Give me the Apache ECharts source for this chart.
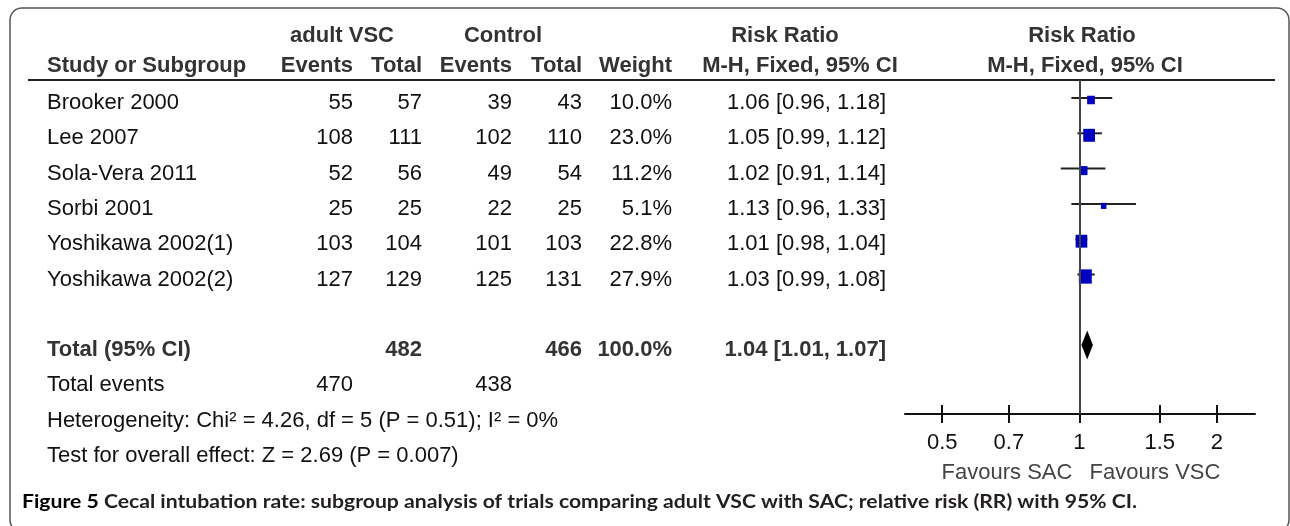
<!DOCTYPE html>
<html>
<head>
<meta charset="utf-8">
<script src="https://cdn.jsdelivr.net/npm/echarts@6/dist/echarts.min.js"></script>
<style>
  html, body { margin: 0; padding: 0; background: #fff; }
  #main { width: 1290px; height: 526px; }
</style>
</head>
<body>
<div id="main"></div>
<script>
// 数据
const studies = ['Brooker 2000', 'Lee 2007', 'Sola-Vera 2011', 'Sorbi 2001', 'Yoshikawa 2002(1)', 'Yoshikawa 2002(2)'];
const vscEvents = [55, 108, 52, 25, 103, 127];
const vscTotal = [57, 111, 56, 25, 104, 129];
const ctrlEvents = [39, 102, 49, 22, 101, 125];
const ctrlTotal = [43, 110, 54, 25, 103, 131];
const weights = [10.0, 23.0, 11.2, 5.1, 22.8, 27.9];
const rr = [1.06, 1.05, 1.02, 1.13, 1.01, 1.03];
const ciLow = [0.96, 0.99, 0.91, 0.96, 0.98, 0.99];
const ciHigh = [1.18, 1.12, 1.14, 1.33, 1.04, 1.08];
const totalN = [482, 466];          // adult VSC, Control
const totalWeight = 100.0;
const totalRR = [1.04, 1.01, 1.07]; // rr, low, high
const totalEvents = [470, 438];
const footLines = [
    'Heterogeneity: Chi\u00b2 = 4.26, df = 5 (P = 0.51); I\u00b2 = 0%',
    'Test for overall effect: Z = 2.69 (P = 0.007)'
];
const axisTicks = [0.5, 0.7, 1, 1.5, 2];
const favours = ['Favours SAC', 'Favours VSC'];
const captionHead = 'Figure 5';
const caption = 'Cecal intubation rate: subgroup analysis of trials comparing adult VSC with SAC; relative risk (RR) with 95% CI.';

// 布局
const ROW0 = 98, ROW_STEP = 35.3, TEXT_DY = 5;
const GRID_TOP = 80, AXIS_Y = 414;
const TOTAL_ROW = 7;
const rowY = i => ROW0 + ROW_STEP * i + TEXT_DY;
const FONT = '"Liberation Sans", Arial, sans-serif';
const CAP_FONT = 'Lato, "Open Sans", sans-serif';
const CAP_SIZE = 19, CAP_X = 22, CAP_END = 1137;

function txt(x, y, s, align, bold, color) {
    return {
        type: 'text', x: x, y: y, silent: true,
        style: {
            text: s, align: align || 'left', verticalAlign: 'middle',
            fontFamily: FONT, fontSize: 22, fontWeight: bold ? 'bold' : 'normal',
            fill: color || '#111'
        }
    };
}
const fmt1 = v => v.toFixed(1) + '%';
const fmtRR = (a, b, c) => a.toFixed(2) + ' [' + b.toFixed(2) + ', ' + c.toFixed(2) + ']';

const elements = [];
// 外框
elements.push({
    type: 'rect', silent: true,
    shape: { x: 10, y: 8, width: 1279, height: 524, r: 12 },
    style: { fill: 'none', stroke: '#555', lineWidth: 1.5 }
});
// 表头
const HEAD = '#333';
elements.push(txt(342, 36, 'adult VSC', 'center', true, HEAD));
elements.push(txt(503, 36, 'Control', 'center', true, HEAD));
elements.push(txt(785, 36, 'Risk Ratio', 'center', true, HEAD));
elements.push(txt(1082, 36, 'Risk Ratio', 'center', true, HEAD));
elements.push(txt(47, 66, 'Study or Subgroup', 'left', true, HEAD));
elements.push(txt(353, 66, 'Events', 'right', true, HEAD));
elements.push(txt(422, 66, 'Total', 'right', true, HEAD));
elements.push(txt(512, 66, 'Events', 'right', true, HEAD));
elements.push(txt(582, 66, 'Total', 'right', true, HEAD));
elements.push(txt(672, 66, 'Weight', 'right', true, HEAD));
elements.push(txt(800, 66, 'M-H, Fixed, 95% CI', 'center', true, HEAD));
elements.push(txt(1085, 66, 'M-H, Fixed, 95% CI', 'center', true, HEAD));
elements.push({
    type: 'line', silent: true,
    shape: { x1: 28, y1: GRID_TOP, x2: 1275, y2: GRID_TOP },
    style: { stroke: '#222', lineWidth: 2 }
});
// 研究行
studies.forEach((name, i) => {
    const y = rowY(i);
    elements.push(txt(47, y, name));
    elements.push(txt(353, y, String(vscEvents[i]), 'right'));
    elements.push(txt(422, y, String(vscTotal[i]), 'right'));
    elements.push(txt(512, y, String(ctrlEvents[i]), 'right'));
    elements.push(txt(582, y, String(ctrlTotal[i]), 'right'));
    elements.push(txt(672, y, fmt1(weights[i]), 'right'));
    elements.push(txt(886, y, fmtRR(rr[i], ciLow[i], ciHigh[i]), 'right'));
});
// 合计
let y = rowY(TOTAL_ROW);
elements.push(txt(47, y, 'Total (95% CI)', 'left', true, HEAD));
elements.push(txt(422, y, String(totalN[0]), 'right', true, HEAD));
elements.push(txt(582, y, String(totalN[1]), 'right', true, HEAD));
elements.push(txt(672, y, fmt1(totalWeight), 'right', true, HEAD));
elements.push(txt(886, y, fmtRR(totalRR[0], totalRR[1], totalRR[2]), 'right', true, HEAD));
y = rowY(TOTAL_ROW + 1);
elements.push(txt(47, y, 'Total events'));
elements.push(txt(353, y, String(totalEvents[0]), 'right'));
elements.push(txt(512, y, String(totalEvents[1]), 'right'));
footLines.forEach((s, k) => elements.push(txt(47, rowY(TOTAL_ROW + 2 + k), s)));
// 偏向说明
elements.push(txt(1007, 473, favours[0], 'center', false, '#444'));
elements.push(txt(1155, 473, favours[1], 'center', false, '#444'));
// 图注, 横向压缩到原图宽度
const ctx = document.createElement('canvas').getContext('2d');
ctx.font = 'bold ' + CAP_SIZE + 'px ' + CAP_FONT;
const capW = ctx.measureText(captionHead + ' ' + caption).width;
elements.push({
    type: 'text', x: CAP_X, y: 502, silent: true,
    scaleX: (CAP_END - CAP_X) / capW,
    style: {
        text: '{b|' + captionHead + '} ' + caption,
        verticalAlign: 'middle',
        fontFamily: CAP_FONT, fontSize: CAP_SIZE, fontWeight: 'bold', fill: '#231f20',
        rich: { b: { fontFamily: CAP_FONT, fontSize: CAP_SIZE, fontWeight: 'bold', fill: '#000' } }
    }
});

const studyData = studies.map((s, i) => [ciLow[i], ciHigh[i], rr[i], i, weights[i]]);
const totalData = [[totalRR[1], totalRR[2], totalRR[0], TOTAL_ROW]];

const X_MIN = 0.4144, X_MAX = 2.426;
const tickFmt = v => String(parseFloat((+v).toFixed(2)));

const chart = echarts.init(document.getElementById('main'), null, { renderer: 'canvas' });
const option = {
    animation: false,
    backgroundColor: '#fff',
    grid: { left: 905, right: 1290 - 1255, top: GRID_TOP, bottom: 526 - AXIS_Y },
    xAxis: [
        {
            type: 'log', logBase: 10, min: X_MIN, max: X_MAX, position: 'bottom',
            axisLine: { onZero: false, lineStyle: { color: '#111', width: 2 } },
            axisTick: { customValues: axisTicks, length: 9, lineStyle: { color: '#111', width: 2 } },
            axisLabel: {
                customValues: axisTicks, formatter: tickFmt, margin: 18,
                fontFamily: FONT, fontSize: 22, color: '#111'
            },
            splitLine: { show: false }
        },
        {
            type: 'log', logBase: 10, min: X_MIN, max: X_MAX, position: 'bottom',
            axisLine: { show: false, onZero: false },
            axisTick: { customValues: axisTicks, inside: true, length: 9, lineStyle: { color: '#111', width: 2 } },
            axisLabel: { show: false },
            splitLine: { show: false }
        }
    ],
    yAxis: {
        type: 'value', inverse: true, show: false,
        min: (GRID_TOP - ROW0) / ROW_STEP, max: (AXIS_Y - ROW0) / ROW_STEP
    },
    series: [
        {
            type: 'custom', name: 'studies',
            data: studyData,
            encode: { x: [0, 1, 2], y: 3 },
            renderItem: function (params, api) {
                const p1 = api.coord([api.value(0), api.value(3)]);
                const p2 = api.coord([api.value(1), api.value(3)]);
                const pc = api.coord([api.value(2), api.value(3)]);
                const s = Math.sqrt(api.value(4));
                const w = 2.45 * s, h = 2.7 * s;
                return {
                    type: 'group',
                    children: [
                        { type: 'line', shape: { x1: p1[0], y1: p1[1], x2: p2[0], y2: p2[1] }, style: { stroke: '#222', lineWidth: 2 } },
                        { type: 'rect', shape: { x: pc[0] - w / 2, y: pc[1] - h / 2 + 2, width: w, height: h }, style: { fill: '#0000c0' } }
                    ]
                };
            },
            markLine: {
                silent: true, symbol: 'none', label: { show: false },
                lineStyle: { color: '#444', width: 2, type: 'solid' },
                data: [{ xAxis: 1 }]
            },
            z: 3
        },
        {
            type: 'custom', name: 'total',
            data: totalData,
            encode: { x: [0, 1, 2], y: 3 },
            renderItem: function (params, api) {
                const pl = api.coord([api.value(0), api.value(3)]);
                const ph = api.coord([api.value(1), api.value(3)]);
                const pc = api.coord([api.value(2), api.value(3)]);
                const hh = 14.5;
                return {
                    type: 'polygon',
                    shape: { points: [[pl[0], pl[1]], [pc[0], pc[1] - hh], [ph[0], ph[1]], [pc[0], pc[1] + hh]] },
                    style: { fill: '#000' }
                };
            },
            z: 4
        }
    ],
    graphic: { elements: elements }
};
chart.setOption(option);
</script>
</body>
</html>
